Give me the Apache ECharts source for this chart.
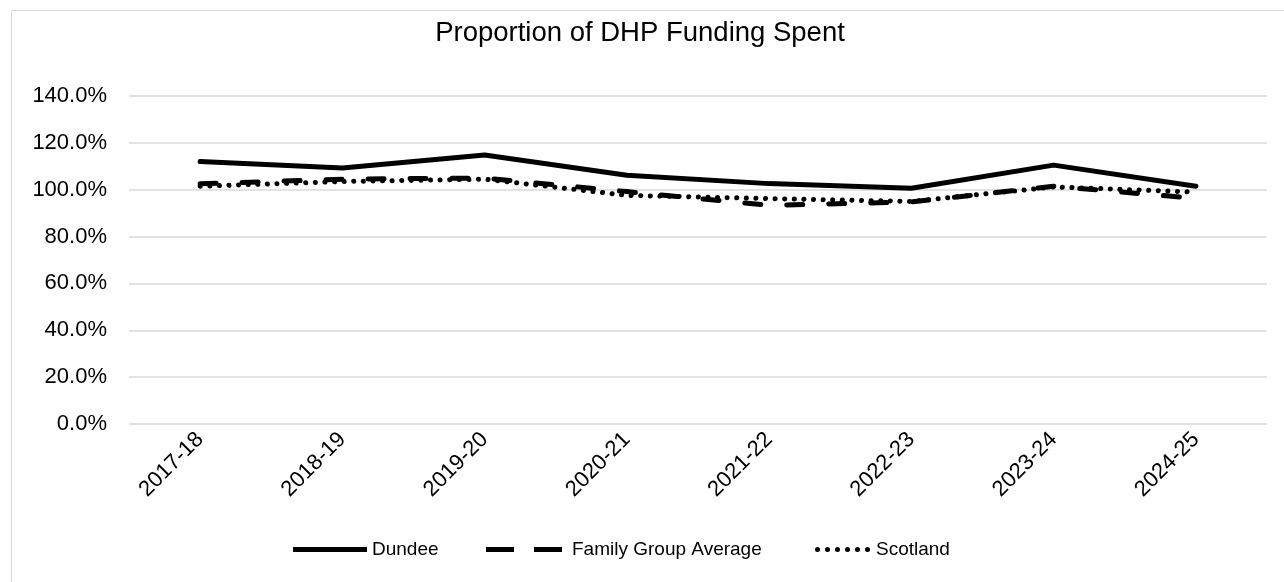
<!DOCTYPE html>
<html>
<head>
<meta charset="utf-8">
<script src="https://cdn.jsdelivr.net/npm/echarts@6/dist/echarts.min.js"></script>
<style>
html,body{margin:0;padding:0;background:#fff;}
#chart{width:1284px;height:582px;}
</style>
</head>
<body>
<div id="chart"></div>
<script>
const categories = ['2017-18','2018-19','2019-20','2020-21','2021-22','2022-23','2023-24','2024-25'];
const dundee = [112.0, 109.3, 114.8, 106.2, 102.6, 100.6, 110.5, 101.5];
const familyGroupAverage = [102.5, 104.5, 105.0, 99.2, 93.3, 94.8, 101.5, 96.3];
const scotland = [101.5, 103.5, 104.5, 97.6, 96.2, 95.0, 101.2, 99.0];
const yTicks = [0, 20, 40, 60, 80, 100, 120, 140];
const seriesNames = ['Dundee', 'Family Group Average', 'Scotland'];

const FONT = '"Liberation Sans", Arial, sans-serif';
const legendText = { fontFamily: FONT, fontSize: 19, color: '#000' };

function dotsPath(n, r, step) {
  let p = '';
  for (let i = 0; i < n; i++) {
    const cx = r + i * step;
    p += 'M' + (cx - r) + ',' + r + ' a' + r + ',' + r + ' 0 1,0 ' + (2 * r) + ',0 a' + r + ',' + r + ' 0 1,0 ' + (-2 * r) + ',0 Z ';
  }
  return 'path://' + p;
}

const chart = echarts.init(document.getElementById('chart'));
chart.setOption({
  animation: false,
  backgroundColor: '#fff',
  graphic: [{
    type: 'rect', left: 9, top: 8,
    shape: { width: 1300, height: 600 },
    style: { fill: 'none', stroke: '#d9d9d9', lineWidth: 1 }
  }],
  title: {
    text: 'Proportion of DHP Funding Spent',
    left: 635, top: 14, textAlign: 'center',
    textStyle: { fontFamily: FONT, fontSize: 27.5, fontWeight: 'normal', color: '#000' }
  },
  grid: { left: 129, right: 17, top: 96, bottom: 158, containLabel: false },
  legend: [
    { left: 293, top: 540, padding: 0, itemWidth: 74, itemHeight: 5, itemStyle: { borderWidth: 0 },
      icon: 'path://M0,0H74V5H0Z', textStyle: legendText, data: [seriesNames[0]] },
    { left: 486, top: 540, padding: 0, itemWidth: 76, itemHeight: 5, itemStyle: { borderWidth: 0 },
      icon: 'path://M0,0H28V5H0Z M48,0H76V5H48Z', textStyle: Object.assign({ padding: [0, 0, 0, 5] }, legendText), data: [seriesNames[1]] },
    { left: 815, top: 540, padding: 0, itemWidth: 55, itemHeight: 5, itemStyle: { borderWidth: 0 },
      icon: dotsPath(6, 2.5, 10), textStyle: Object.assign({ padding: [0, 0, 0, 1] }, legendText), data: [seriesNames[2]] }
  ],
  xAxis: {
    type: 'category', data: categories, boundaryGap: true,
    axisLine: { show: false }, axisTick: { show: false },
    axisLabel: { rotate: 45, margin: 12, fontFamily: FONT, fontSize: 22, color: '#000', interval: 0 }
  },
  yAxis: {
    type: 'value', min: yTicks[0], max: yTicks[yTicks.length - 1], interval: 20,
    axisLine: { show: false }, axisTick: { show: false },
    splitLine: { lineStyle: { color: '#d9d9d9', width: 1.5 } },
    axisLabel: { margin: 22, fontFamily: FONT, fontSize: 22, color: '#000',
      formatter: v => v.toFixed(1) + '%' }
  },
  series: [
    { name: seriesNames[0], type: 'line', data: dundee, showSymbol: false, symbol: 'none',
      color: '#000', lineStyle: { color: '#000', width: 5, cap: 'round', join: 'round' } },
    { name: seriesNames[1], type: 'line', data: familyGroupAverage, showSymbol: false, symbol: 'none',
      color: '#000', lineStyle: { color: '#000', width: 5, type: [16, 26], cap: 'round', join: 'round' } },
    { name: seriesNames[2], type: 'line', data: scotland, showSymbol: false, symbol: 'none',
      color: '#000', lineStyle: { color: '#000', width: 5, type: [0.1, 9.5], cap: 'round', join: 'round' } }
  ]
});
</script>
</body>
</html>
